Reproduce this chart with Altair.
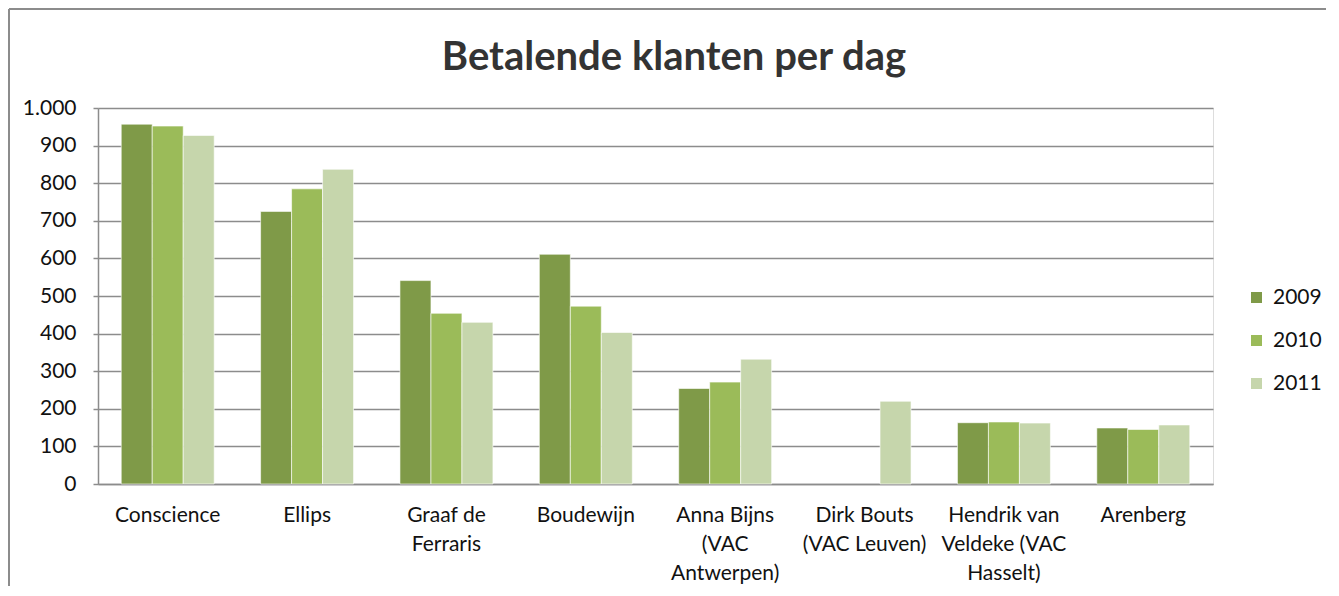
import altair as alt
import pandas as pd

categories = [
    "Conscience",
    "Ellips",
    "Graaf de|Ferraris",
    "Boudewijn",
    "Anna Bijns|(VAC|Antwerpen)",
    "Dirk Bouts|(VAC Leuven)",
    "Hendrik van|Veldeke (VAC|Hasselt)",
    "Arenberg",
]
years = ["2009", "2010", "2011"]
v2009 = [957, 725, 541, 611, 254, None, 163, 149]
v2010 = [952, 785, 454, 473, 271, None, 165, 145]
v2011 = [927, 837, 430, 403, 332, 220, 162, 157]
colors = ["#7F9A48", "#9BBB59", "#C6D6AC"]

rows = []
for yr, vals in zip(years, [v2009, v2010, v2011]):
    for c, v in zip(categories, vals):
        if v is not None:
            rows.append({"cat": c, "year": yr, "value": v})
df = pd.DataFrame(rows)

W, H = 1115, 376
FONT = "Lato"

bars = alt.Chart(df).mark_bar(stroke="white", strokeWidth=0.6).encode(
    x=alt.X(
        "cat:N",
        sort=categories,
        scale=alt.Scale(domain=categories, paddingInner=0.333, paddingOuter=0.1667),
        axis=alt.Axis(
            title=None,
            labelAngle=0,
            labelExpr="split(datum.label, '|')",
            labelFontSize=21,
            labelFont=FONT,
            labelColor="#111111",
            labelLineHeight=29,
            labelPadding=20,
            tickSize=0,
            domainColor="#8C8C8C",
            domainWidth=1.5,
            grid=False,
        ),
    ),
    xOffset=alt.XOffset("year:N", scale=alt.Scale(domain=years)),
    y=alt.Y(
        "value:Q",
        scale=alt.Scale(domain=[0, 1000]),
        axis=alt.Axis(
            title=None,
            values=[0, 100, 200, 300, 400, 500, 600, 700, 800, 900, 1000],
            labelExpr="replace(format(datum.value, ','), ',', '.')",
            labelFontSize=21,
            labelFont=FONT,
            labelColor="#111111",
            labelPadding=17,
            tickSize=5,
            tickColor="#8C8C8C",
            tickWidth=1.5,
            domainColor="#8C8C8C",
            domainWidth=1.5,
            gridColor="#8C8C8C",
            gridWidth=1.5,
        ),
    ),
    color=alt.Color(
        "year:N",
        scale=alt.Scale(domain=years, range=colors),
        legend=alt.Legend(
            title=None,
            orient="none",
            legendX=1148,
            legendY=179,
            symbolType="square",
            symbolSize=121,
            symbolStrokeWidth=0,
            labelFontSize=21,
            labelFont=FONT,
            labelColor="#111111",
            labelOffset=6,
            rowPadding=21,
        ),
    ),
)

title = alt.Chart(pd.DataFrame({"t": ["Betalende klanten per dag"]})).mark_text(
    font=FONT, fontSize=40, fontWeight="bold", color="#333333", baseline="alphabetic", align="center"
).encode(text="t:N", x=alt.value(576), y=alt.value(-38))

frame_top = alt.Chart(pd.DataFrame({"a": [0]})).mark_rule(color="#8C8C8C", strokeWidth=2).encode(
    x=alt.value(-89), x2=alt.value(1228), y=alt.value(-99)
)
frame_left = alt.Chart(pd.DataFrame({"a": [0]})).mark_rule(color="#8C8C8C", strokeWidth=2).encode(
    x=alt.value(-89), y=alt.value(-99), y2=alt.value(478)
)

chart = alt.layer(frame_top, frame_left, bars, title).properties(
    width=W, height=H, padding=0
).configure_view(stroke=None).configure(background="white")

chart.save("out.html", embed_options={"renderer": "svg", "actions": False})
